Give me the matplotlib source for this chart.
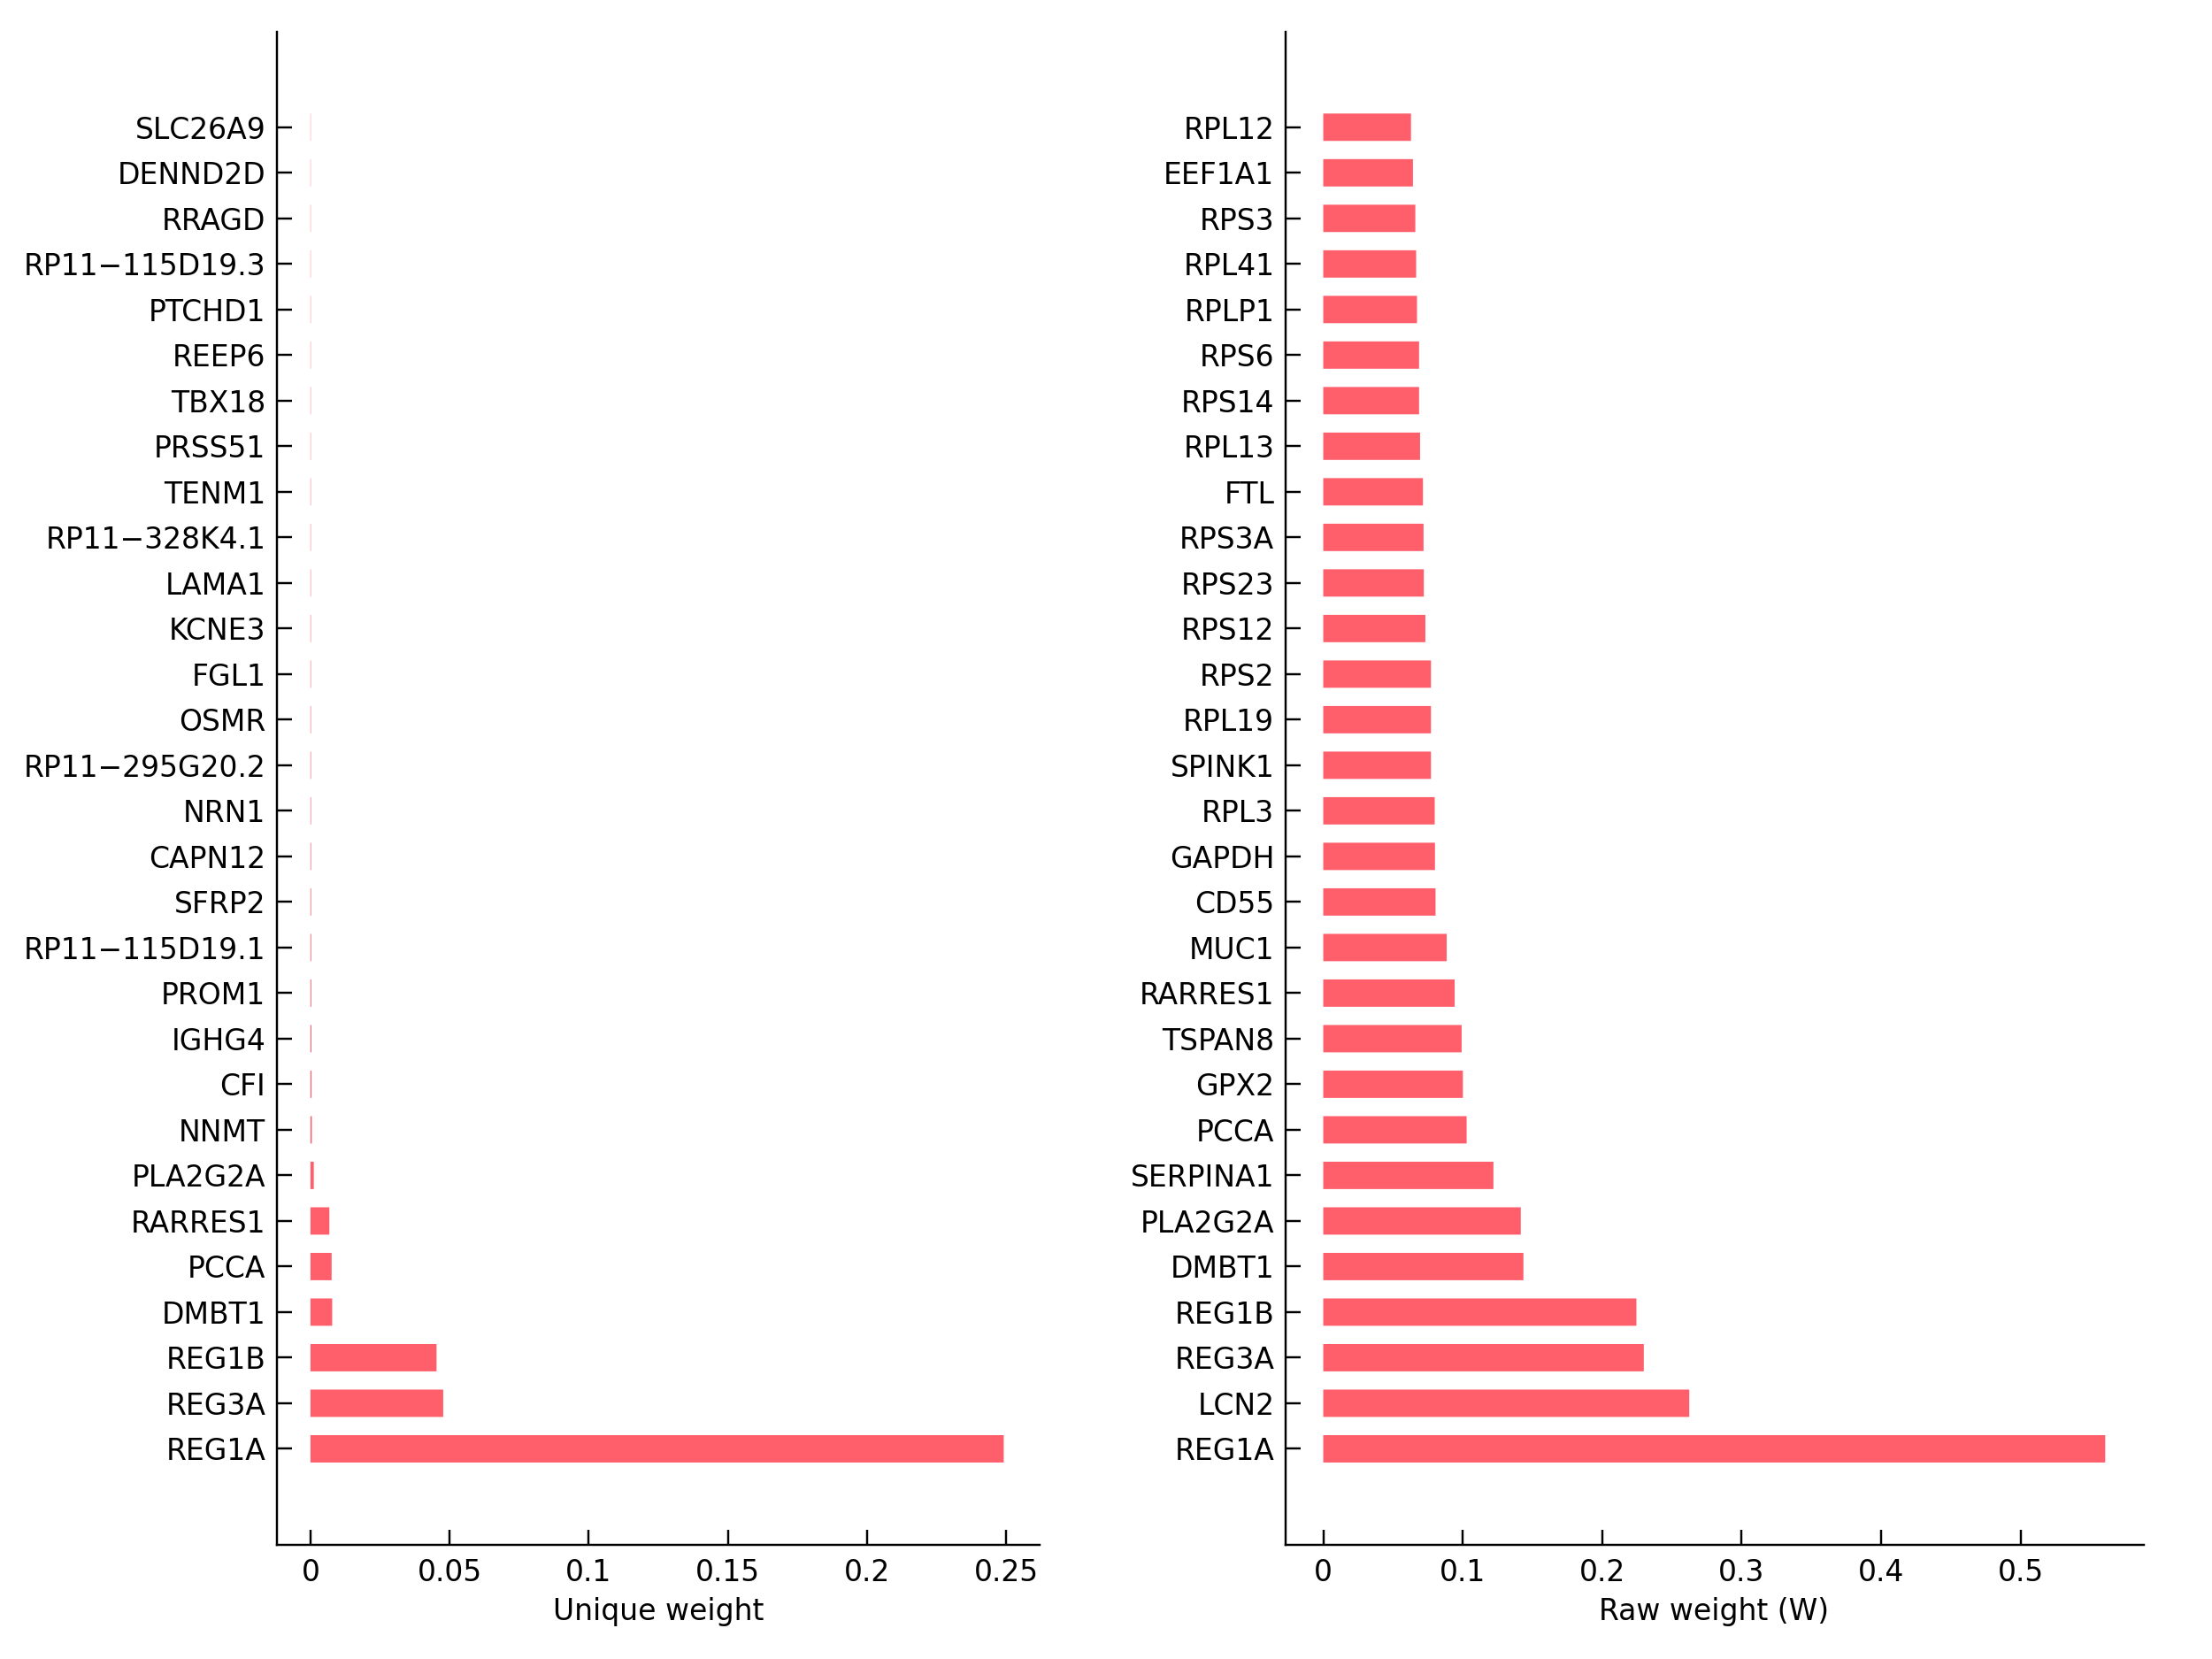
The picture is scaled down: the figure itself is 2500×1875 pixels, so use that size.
import matplotlib
matplotlib.use("Agg")
import matplotlib.pyplot as plt

# Data (top to bottom as displayed)
unique_genes = ["SLC26A9", "DENND2D", "RRAGD", "RP11\u2212115D19.3", "PTCHD1", "REEP6", "TBX18",
                "PRSS51", "TENM1", "RP11\u2212328K4.1", "LAMA1", "KCNE3", "FGL1", "OSMR",
                "RP11\u2212295G20.2", "NRN1", "CAPN12", "SFRP2", "RP11\u2212115D19.1", "PROM1",
                "IGHG4", "CFI", "NNMT", "PLA2G2A", "RARRES1", "PCCA", "DMBT1", "REG1B",
                "REG3A", "REG1A"]
unique_vals = [0.00010, 0.00010, 0.00011, 0.00011, 0.00012, 0.00012, 0.00013,
               0.00013, 0.00014, 0.00014, 0.00015, 0.00016, 0.00017, 0.00018,
               0.00019, 0.00020, 0.00022, 0.00024, 0.00027, 0.00030,
               0.00035, 0.00040, 0.00050, 0.0012, 0.0068, 0.0076, 0.0078, 0.0453,
               0.0477, 0.2491]

raw_genes = ["RPL12", "EEF1A1", "RPS3", "RPL41", "RPLP1", "RPS6", "RPS14", "RPL13", "FTL",
             "RPS3A", "RPS23", "RPS12", "RPS2", "RPL19", "SPINK1", "RPL3", "GAPDH", "CD55",
             "MUC1", "RARRES1", "TSPAN8", "GPX2", "PCCA", "SERPINA1", "PLA2G2A", "DMBT1",
             "REG1B", "REG3A", "LCN2", "REG1A"]
raw_vals = [0.0629, 0.0643, 0.0660, 0.0666, 0.0672, 0.0687, 0.0687, 0.0694, 0.0715,
            0.0719, 0.0721, 0.0732, 0.0772, 0.0772, 0.0772, 0.0799, 0.0801, 0.0805,
            0.0885, 0.0942, 0.0992, 0.1001, 0.1028, 0.1220, 0.1416, 0.1435,
            0.2245, 0.2298, 0.2624, 0.5606]

unique_ticks = [0, 0.05, 0.1, 0.15, 0.2, 0.25]
unique_ticklabels = ["0", "0.05", "0.1", "0.15", "0.2", "0.25"]
raw_ticks = [0, 0.1, 0.2, 0.3, 0.4, 0.5]
raw_ticklabels = ["0", "0.1", "0.2", "0.3", "0.4", "0.5"]

BAR_COLOR = "#ff5e6b"
plt.rcParams['font.family'] = ['DejaVu Sans']

fig = plt.figure(figsize=(10, 7.5), dpi=250)
ax1 = fig.add_axes([0.125, 0.069, 0.345, 0.912])
ax2 = fig.add_axes([0.581, 0.069, 0.388, 0.912])


def draw(ax, genes, vals, ticks, ticklabels, xlim, xlabel):
    n = len(genes)
    ypos = list(range(n - 1, -1, -1))
    bars = ax.barh(ypos, vals, height=0.6, color=BAR_COLOR, edgecolor='none')
    for b in bars:
        b.set_snap(False)
    ax.set_yticks(ypos)
    ax.set_yticklabels(genes, fontsize=9.5)
    ax.set_ylim(-2.1, n - 1 + 2.1)
    ax.set_xlim(*xlim)
    ax.set_xticks(ticks)
    ax.set_xticklabels(ticklabels, fontsize=9.5)
    ax.set_xlabel(xlabel, fontsize=9.5, labelpad=3)
    for s in ['top', 'right']:
        ax.spines[s].set_visible(False)
    for s in ['left', 'bottom']:
        ax.spines[s].set_linewidth(0.7)
    ax.tick_params(axis='both', direction='in', length=5, width=0.7, colors='black')
    ax.tick_params(axis='y', pad=3.5)
    ax.tick_params(axis='x', pad=4.5)


draw(ax1, unique_genes, unique_vals, unique_ticks, unique_ticklabels,
     (-0.0122, 0.262), "Unique weight")
draw(ax2, raw_genes, raw_vals, raw_ticks, raw_ticklabels,
     (-0.0273, 0.588), "Raw weight (W)")

fig.savefig("out.png", dpi=250)
